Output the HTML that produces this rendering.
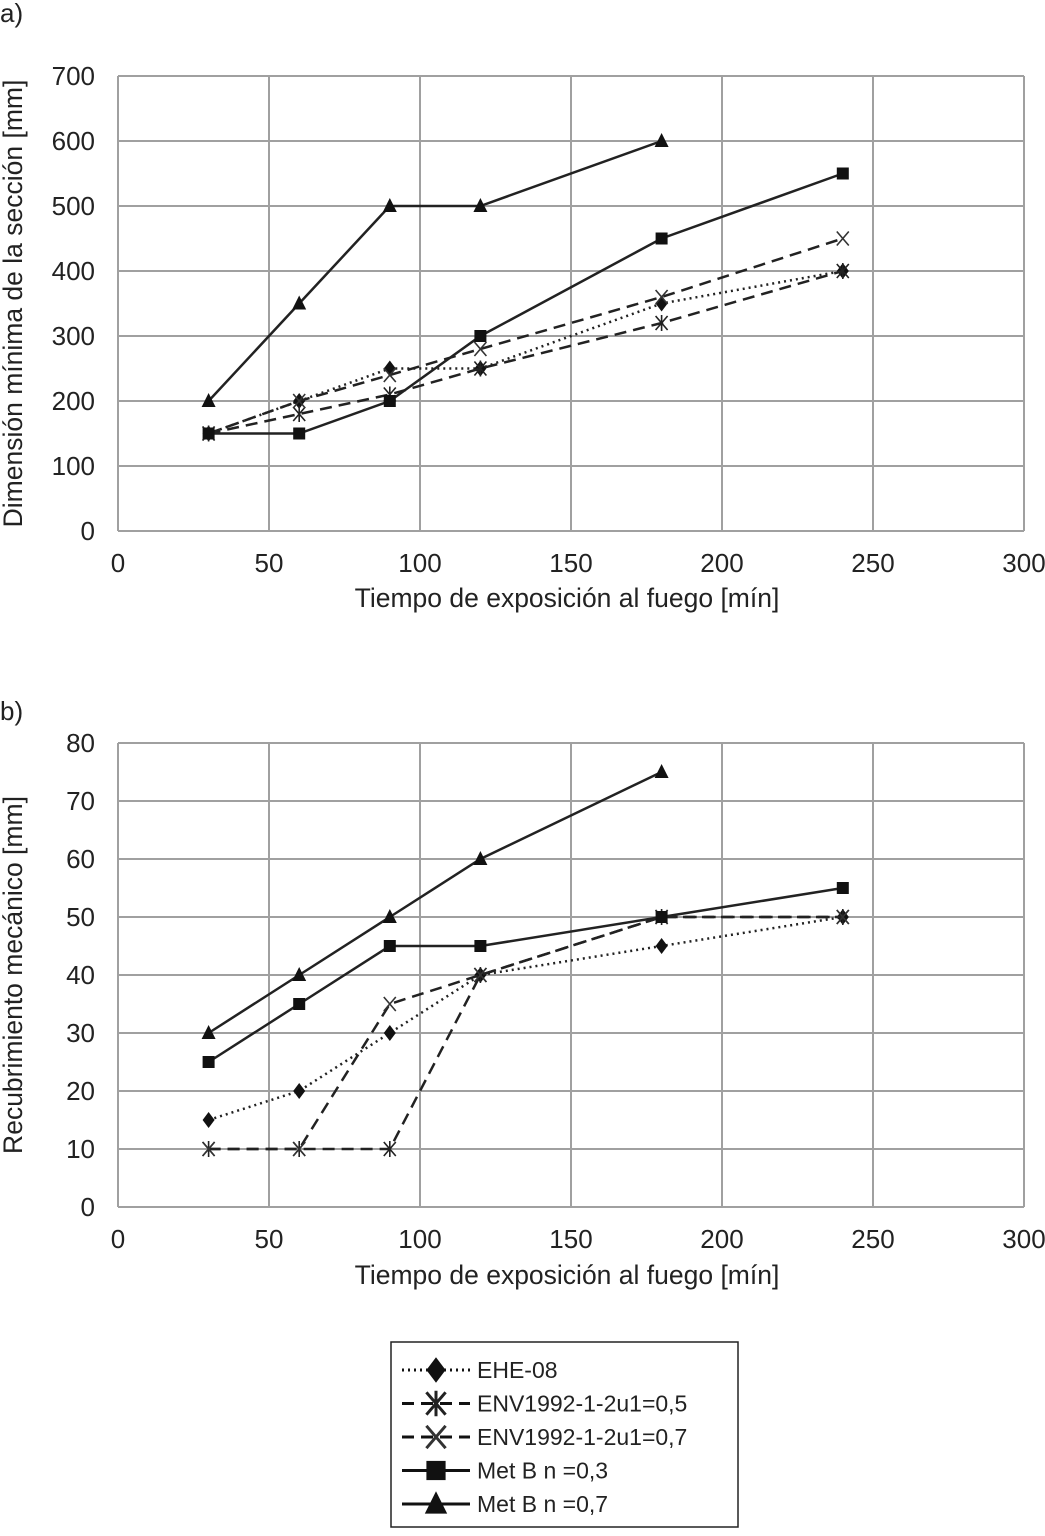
<!DOCTYPE html>
<html><head><meta charset="utf-8"><style>
body{margin:0;background:#fff;font-family:"Liberation Sans",sans-serif;}
svg text{font-family:"Liberation Sans",sans-serif;fill:#222;}
</style></head><body>
<svg id="s" width="1045" height="1531" xmlns="http://www.w3.org/2000/svg"></svg>
<script>
const xCats=[30,60,90,120,180,240];
const xTicks=[0,50,100,150,200,250,300];
const aTicks=[0,100,200,300,400,500,600,700];
const bTicks=[0,10,20,30,40,50,60,70,80];
const aEHE=[150,200,250,250,350,400];
const aENV5=[150,180,210,250,320,400];
const aENV7=[150,200,240,280,360,450];
const aMB3=[150,150,200,300,450,550];
const aMB7=[200,350,500,500,600];
const bEHE=[15,20,30,40,45,50];
const bENV5=[10,10,10,40,50,50];
const bENV7=[10,10,35,40,50,50];
const bMB3=[25,35,45,45,50,55];
const bMB7=[30,40,50,60,75];
const names=["EHE-08","ENV1992-1-2u1=0,5","ENV1992-1-2u1=0,7","Met B n =0,3","Met B n =0,7"];

const NS="http://www.w3.org/2000/svg";
const svg=document.getElementById('s');
function el(t,a,p){const e=document.createElementNS(NS,t);for(const k in a)e.setAttribute(k,a[k]);(p||svg).appendChild(e);return e;}
const styles=[{dash:"2,4",m:"diamond"},{dash:"12,7",m:"star"},{dash:"12,7",m:"x"},{dash:"",m:"square"},{dash:"",m:"tri"}];
function marker(g,m,x,y,s,w){
  s=s||1;w=w||1.6;
  if(m=="diamond")el('polygon',{points:`${x},${y-8*s} ${x+6*s},${y} ${x},${y+8*s} ${x-6*s},${y}`,fill:'#111'},g);
  else if(m=="square")el('rect',{x:x-6*s,y:y-6*s,width:12*s,height:12*s,fill:'#111'},g);
  else if(m=="tri")el('polygon',{points:`${x},${y-8*s} ${x+7*s},${y+6*s} ${x-7*s},${y+6*s}`,fill:'#111'},g);
  else if(m=="x"){el('path',{d:`M${x-6*s} ${y-7*s}L${x+6*s} ${y+7*s}M${x+6*s} ${y-7*s}L${x-6*s} ${y+7*s}`,stroke:'#333','stroke-width':w},g);}
  else {el('path',{d:`M${x-6*s} ${y-7*s}L${x+6*s} ${y+7*s}M${x+6*s} ${y-7*s}L${x-6*s} ${y+7*s}M${x} ${y-8*s}L${x} ${y+8*s}`,stroke:'#222','stroke-width':w},g);}
}
function chart(id,label,labelY,top,bottom,ticks,ymax,series,ytitle,xtitleY){
  const L=118,R=1024;
  const sx=v=>L+(v/300)*(R-L);
  const sy=v=>bottom-(v/ymax)*(bottom-top);
  const g=el('g',{});
  
  
  const lt=el('text',{x:0,y:labelY,'font-size':26},g);lt.textContent=label;
  
  xTicks.forEach(t=>{el('line',{x1:sx(t),x2:sx(t),y1:top,y2:bottom,stroke:'#a0a0a0','stroke-width':2},g);
    const tx=el('text',{x:sx(t),y:bottom+41,'font-size':26,'text-anchor':'middle'},g);tx.textContent=t;
    });
  ticks.forEach(t=>{el('line',{x1:L,x2:R,y1:sy(t),y2:sy(t),stroke:'#a0a0a0','stroke-width':2},g);
    const ty=el('text',{x:95,y:sy(t)+9,'font-size':26,'text-anchor':'end'},g);ty.textContent=t;
    });
  const xt=el('text',{x:567,y:xtitleY,'font-size':26.5,'text-anchor':'middle'},g);xt.textContent="Tiempo de exposición al fuego [mín]";
  
  const yt=el('text',{x:0,y:0,'font-size':26.5,'text-anchor':'middle',transform:`translate(22,${(top+bottom)/2}) rotate(-90)`},g);yt.textContent=ytitle;
  
  series.forEach((d,i)=>{
    const sg=el('g',{},g);
    
    
    const pts=d.map((v,j)=>sx(xCats[j])+','+sy(v)).join(' ');
    el('polyline',{points:pts,fill:'none',stroke:'#222','stroke-width':2.5,'stroke-dasharray':styles[i].dash},sg);
    d.forEach((v,j)=>marker(sg,styles[i].m,sx(xCats[j]),sy(v)));
  });
}
chart('chart-a','a)',22,76,531,aTicks,700,[aEHE,aENV5,aENV7,aMB3,aMB7],"Dimensión mínima de la sección [mm]",607);
chart('chart-b','b)',720,743,1207,bTicks,80,[bEHE,bENV5,bENV7,bMB3,bMB7],"Recubrimiento mecánico [mm]",1284);
const lg=el('g',{});


el('rect',{x:391,y:1342,width:347,height:185,fill:'#fff',stroke:'#222','stroke-width':1.5},lg);
names.forEach((n,i)=>{
  const y=1370+i*33.5;
  const eg=el('g',{},lg);
  
  
  el('line',{x1:402,x2:470,y1:y,y2:y,stroke:'#111','stroke-width':3,'stroke-dasharray':styles[i].dash},eg);
  marker(eg,styles[i].m,436,y,1.6,3);
  const t=el('text',{x:477,y:y+8,'font-size':23},eg);t.textContent=n;
});
</script>
</body></html>
